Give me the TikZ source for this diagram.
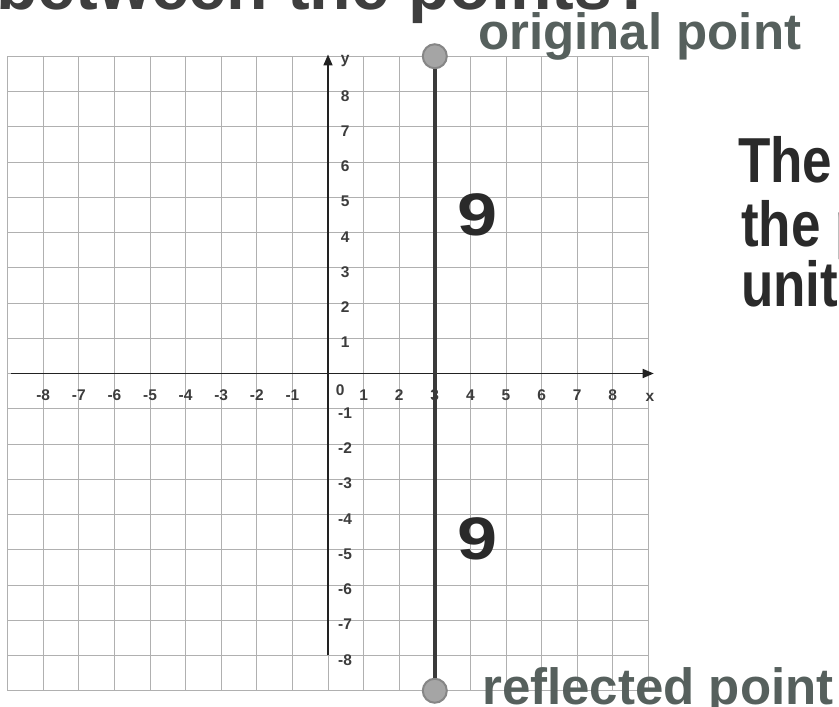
\documentclass[tikz,border=0pt]{standalone}
\usepackage{fontspec}
\setmainfont{Liberation Sans}
\usetikzlibrary{arrows.meta}
\definecolor{gridc}{HTML}{B0B0B0}
\definecolor{labc}{HTML}{56605D}
\definecolor{ink}{HTML}{2A2A2A}
\definecolor{titlec}{HTML}{3E3E3E}
\definecolor{tickc}{HTML}{3C3C3C}
\definecolor{axisc}{HTML}{222222}
\definecolor{heavyc}{HTML}{3A3A3A}
\definecolor{ptfill}{HTML}{A5A5A5}
\definecolor{ptring}{HTML}{868686}
\tikzset{
  gridline/.style={gridc, line width=0.9pt},
  axisline/.style={axisc, line width=1.6pt, -{Triangle[length=11pt,width=9pt]}},
  ticklab/.style={tickc, font=\fontsize{15.5}{15.5}\selectfont\bfseries, inner sep=0pt, anchor=base},
  bignum/.style={ink, font=\fontsize{60}{60}\selectfont\bfseries, inner sep=0pt},
  ptlabel/.style={labc, font=\fontsize{51}{51}\selectfont\bfseries, inner sep=0pt, anchor=base west},
  sidetext/.style={ink, font=\fontsize{53}{53}\selectfont\bfseries, inner sep=0pt, anchor=base west},
  ptdot/.style={circle, fill=ptfill, draw=ptring, line width=2pt, minimum size=24pt, inner sep=0pt},
  heavy/.style={heavyc, line width=4.5pt}
}
\begin{document}
\begin{tikzpicture}[x=1pt,y=1pt]
\useasboundingbox (0,0) rectangle (839,707);
\clip (0,0) rectangle (839,707);
\fill[white] (0,0) rectangle (839,707);
% title (cut off at top)
\node[titlec, font=\fontsize{68}{68}\selectfont\bfseries, inner sep=0pt, anchor=base west] (title) at (-4,697) {between the points?};
\begin{scope}[shift={(328,333.5)}, x=35.6pt, y=35.25pt]
  \foreach \i in {-9,...,9} {
    \draw[gridline] (\i,-9) -- (\i,9);
    \draw[gridline] (-9,\i) -- (9,\i);
  }
  \coordinate (xa0) at (-8.9,0);
  \coordinate (xa1) at (9.15,0);
  \coordinate (ya0) at (0,-8);
  \coordinate (ya1) at (0,9.05);
  \draw[axisline] (xa0) -- (xa1);
  \draw[axisline] (ya0) -- (ya1);
  \foreach \i [count=\k] in {-8,-7,-6,-5,-4,-3,-2,-1,1,2,3,4,5,6,7,8}
    \node[ticklab] (xt\k) at (\i,-0.77) {\i};
  \foreach \i [count=\k] in {-8,-7,-6,-5,-4,-3,-2,-1,1,2,3,4,5,6,7,8}
    \node[ticklab] (yt\k) at (0.48,\i-0.27) {\i};
  \node[ticklab] (orig0) at (0.34,-0.62) {0};
  \node[ticklab] (ylab) at (0.48,8.8) {y};
  \node[ticklab] (xlab) at (9.04,-0.8) {x};
  \node[ptdot] (orig) at (3,9) {};
  \node[ptdot] (refl) at (3,-9) {};
  \draw[heavy] (orig) -- (refl);
  \node[bignum] (nine1) at (4.2,4.5) {\scalebox{1.2}[1]{9}};
  \node[bignum] (nine2) at (4.2,-4.7) {\scalebox{1.2}[1]{9}};
\end{scope}
\node[ptlabel] (origlab) at (478,657) {original point};
\node[ptlabel] (refllab) at (482,2) {reflected point};
\node[sidetext] (s1) at (738,524) {\scalebox{1}[1.2]{The distance between}};
\node[sidetext] (s2) at (741,460) {\scalebox{1}[1.2]{the points is 18}};
\node[sidetext] (s3) at (741,400) {\scalebox{1}[1.2]{units.}};
\end{tikzpicture}
\end{document}
